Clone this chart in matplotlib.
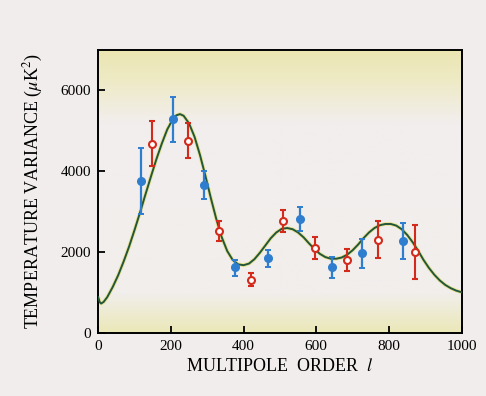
import numpy as np
import matplotlib
matplotlib.use('Agg')
import matplotlib.pyplot as plt
from matplotlib.colors import LinearSegmentedColormap

# data
blueL = [119, 206, 290, 377, 466, 555, 642, 726, 838]
blueV = [3744, 5277, 3645, 1615, 1848, 2807, 1615, 1963, 2271]
blueHi = [4581, 5831, 3993, 1799, 2055, 3106, 1881, 2311, 2718]
blueLo = [2942, 4720, 3297, 1391, 1632, 2509, 1352, 1600, 1814]

redL = [148, 248, 333, 421, 509, 597, 685, 771, 871]
redV = [4671, 4745, 2509, 1309, 2758, 2104, 1789, 2303, 2005]
redHi = [5235, 5178, 2758, 1476, 3024, 2378, 2072, 2758, 2676]
redLo = [4124, 4323, 2261, 1160, 2484, 1824, 1516, 1848, 1327]

curveL = [0, 4, 8, 15, 25, 40, 55, 70, 85, 100, 115, 130, 145, 160, 175, 190, 205,
          215, 225, 235, 250, 265, 280, 295, 310, 325, 340, 355, 370, 385, 400,
          415, 430, 445, 460, 475, 490, 505, 520, 535, 550, 565, 580, 595, 610,
          625, 640, 655, 670, 685, 700, 715, 730, 745, 760, 775, 790, 805, 820,
          835, 850, 865, 880, 895, 910, 925, 940, 955, 970, 985, 1000]
curveV = [880, 760, 720, 760, 880, 1130, 1420, 1760, 2130, 2540, 2970, 3420, 3860,
          4290, 4680, 5030, 5280, 5380, 5410, 5370, 5180, 4850, 4400, 3880, 3330,
          2810, 2360, 2020, 1800, 1690, 1670, 1710, 1820, 1980, 2160, 2340, 2480,
          2570, 2590, 2560, 2480, 2360, 2210, 2070, 1950, 1870, 1830, 1830, 1860,
          1930, 2040, 2180, 2340, 2480, 2590, 2660, 2690, 2690, 2650, 2560, 2420,
          2240, 2030, 1800, 1600, 1430, 1290, 1180, 1100, 1040, 1000]

plt.rcParams['font.family'] = ['Liberation Serif', 'DejaVu Serif']
plt.rcParams['mathtext.fontset'] = 'stix'

fig = plt.figure(figsize=(4.86, 3.96), dpi=100, facecolor='#f2eded')
ax = fig.add_axes([0.202, 0.160, 0.748, 0.714])
ax.set_xlim(0, 1000)
ax.set_ylim(0, 7000)

# yellowish gradient inside the frame
bg = LinearSegmentedColormap.from_list('bg', [
    (0.0, '#ebe5b2'), (0.10, '#eeeac4'), (0.26, '#f2eeee'),
    (0.86, '#f1eeec'), (1.0, '#ebe8b8')])
grad = np.linspace(0, 1, 256).reshape(-1, 1)
ax.imshow(grad, cmap=bg, aspect='auto', extent=[0, 1000, 0, 7000],
          origin='upper', zorder=0)

ax.plot(curveL, curveV, color='#e8e090', lw=2.6, zorder=2, solid_capstyle='round')
ax.plot(curveL, curveV, color='#23573a', lw=1.4, zorder=3)

bErr = [np.array(blueV) - np.array(blueLo), np.array(blueHi) - np.array(blueV)]
rErr = [np.array(redV) - np.array(redLo), np.array(redHi) - np.array(redV)]
ax.errorbar(blueL, blueV, yerr=bErr, fmt='o', color='#2f7dcf', ms=5.5,
            elinewidth=1.6, capsize=2.5, capthick=1.4, zorder=4)
ax.errorbar(redL, redV, yerr=rErr, fmt='o', color='#d42a1c', mfc='white',
            mec='#d42a1c', mew=1.5, ms=5, elinewidth=1.5, capsize=2.5,
            capthick=1.4, zorder=5)

ax.set_xticks([0, 200, 400, 600, 800, 1000])
ax.set_yticks([0, 2000, 4000, 6000])
ax.tick_params(direction='in', length=5, width=1.3, labelsize=11, pad=5)
for s in ax.spines.values():
    s.set_linewidth(1.4)

ax.set_xlabel(r'MULTIPOLE  ORDER  $l$', fontsize=13, labelpad=4)
ax.set_ylabel(r'TEMPERATURE VARIANCE ($\mu$K$^2$)', fontsize=13, labelpad=11)

fig.savefig('out.png', dpi=100, facecolor=fig.get_facecolor())
